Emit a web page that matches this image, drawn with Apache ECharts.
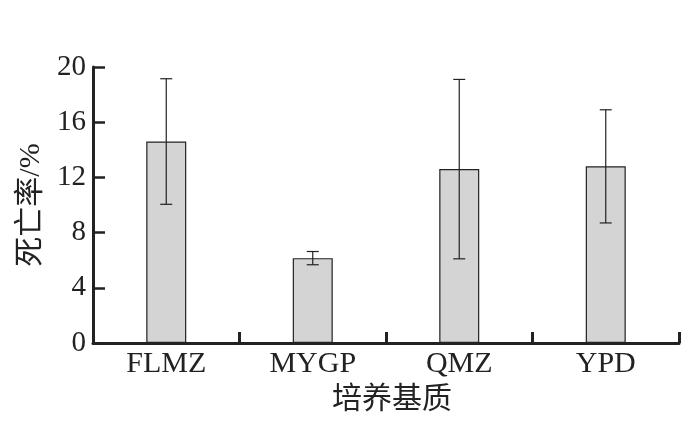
<!DOCTYPE html>
<html>
<head>
<meta charset="utf-8">
<script src="https://cdn.jsdelivr.net/npm/echarts@6/dist/echarts.min.js"></script>
<style>
    html, body {margin: 0; padding: 0; background: #fff;}
    #chart {width: 698px; height: 429px;}
</style>
</head>
<body>
<div id="chart"></div>
<script>
var categories = ['FLMZ', 'MYGP', 'QMZ', 'YPD'];
var means = [14.6, 6.15, 12.6, 12.8];
var errors = [4.55, 0.48, 6.5, 4.1];
var yTicks = {min: 0, max: 20, interval: 4};

var fontFam = "'Liberation Serif', 'Noto Sans CJK SC', serif";

var errData = categories.map(function (c, i) {
    return [i, means[i] - errors[i], means[i] + errors[i]];
});

var chart = echarts.init(document.getElementById('chart'), null, {renderer: 'canvas'});
chart.setOption({
    animation: false,
    backgroundColor: '#fff',
    grid: {left: 93, right: 19, top: 67, bottom: 86},
    xAxis: {
        type: 'category',
        data: categories,
        name: '培养基质',
        nameLocation: 'middle',
        nameGap: 42,
        nameTextStyle: {fontFamily: fontFam, fontSize: 30, color: '#222', padding: [0, 0, 0, 12]},
        axisLine: {lineStyle: {color: '#222', width: 3}},
        axisTick: {show: true, inside: true, length: 11, lineStyle: {color: '#222', width: 3}},
        axisLabel: {fontFamily: fontFam, fontSize: 30, color: '#222', margin: 6}
    },
    yAxis: {
        type: 'value',
        min: yTicks.min,
        max: yTicks.max,
        interval: yTicks.interval,
        name: '死亡率/%',
        nameLocation: 'middle',
        nameGap: 45,
        nameTextStyle: {fontFamily: fontFam, fontSize: 30, color: '#222'},
        axisLine: {show: true, lineStyle: {color: '#222', width: 3}},
        axisTick: {show: true, inside: true, length: 12, lineStyle: {color: '#222', width: 2.5}},
        splitLine: {show: false},
        axisLabel: {fontFamily: fontFam, fontSize: 29, color: '#222', margin: 7}
    },
    series: [
        {
            type: 'bar',
            data: means,
            barWidth: 40,
            itemStyle: {color: '#d4d4d4', borderColor: '#222', borderWidth: 1.2}
        },
        {
            type: 'custom',
            data: errData,
            z: 10,
            renderItem: function (params, api) {
                var x = api.value(0);
                var lo = api.coord([x, api.value(1)]);
                var hi = api.coord([x, api.value(2)]);
                var cap = 6;
                var style = {stroke: '#222', lineWidth: 1.2};
                return {
                    type: 'group',
                    children: [
                        {type: 'line', shape: {x1: hi[0], y1: hi[1], x2: lo[0], y2: lo[1]}, style: style},
                        {type: 'line', shape: {x1: hi[0] - cap, y1: hi[1], x2: hi[0] + cap, y2: hi[1]}, style: style},
                        {type: 'line', shape: {x1: lo[0] - cap, y1: lo[1], x2: lo[0] + cap, y2: lo[1]}, style: style}
                    ]
                };
            }
        }
    ]
});
</script>
</body>
</html>
